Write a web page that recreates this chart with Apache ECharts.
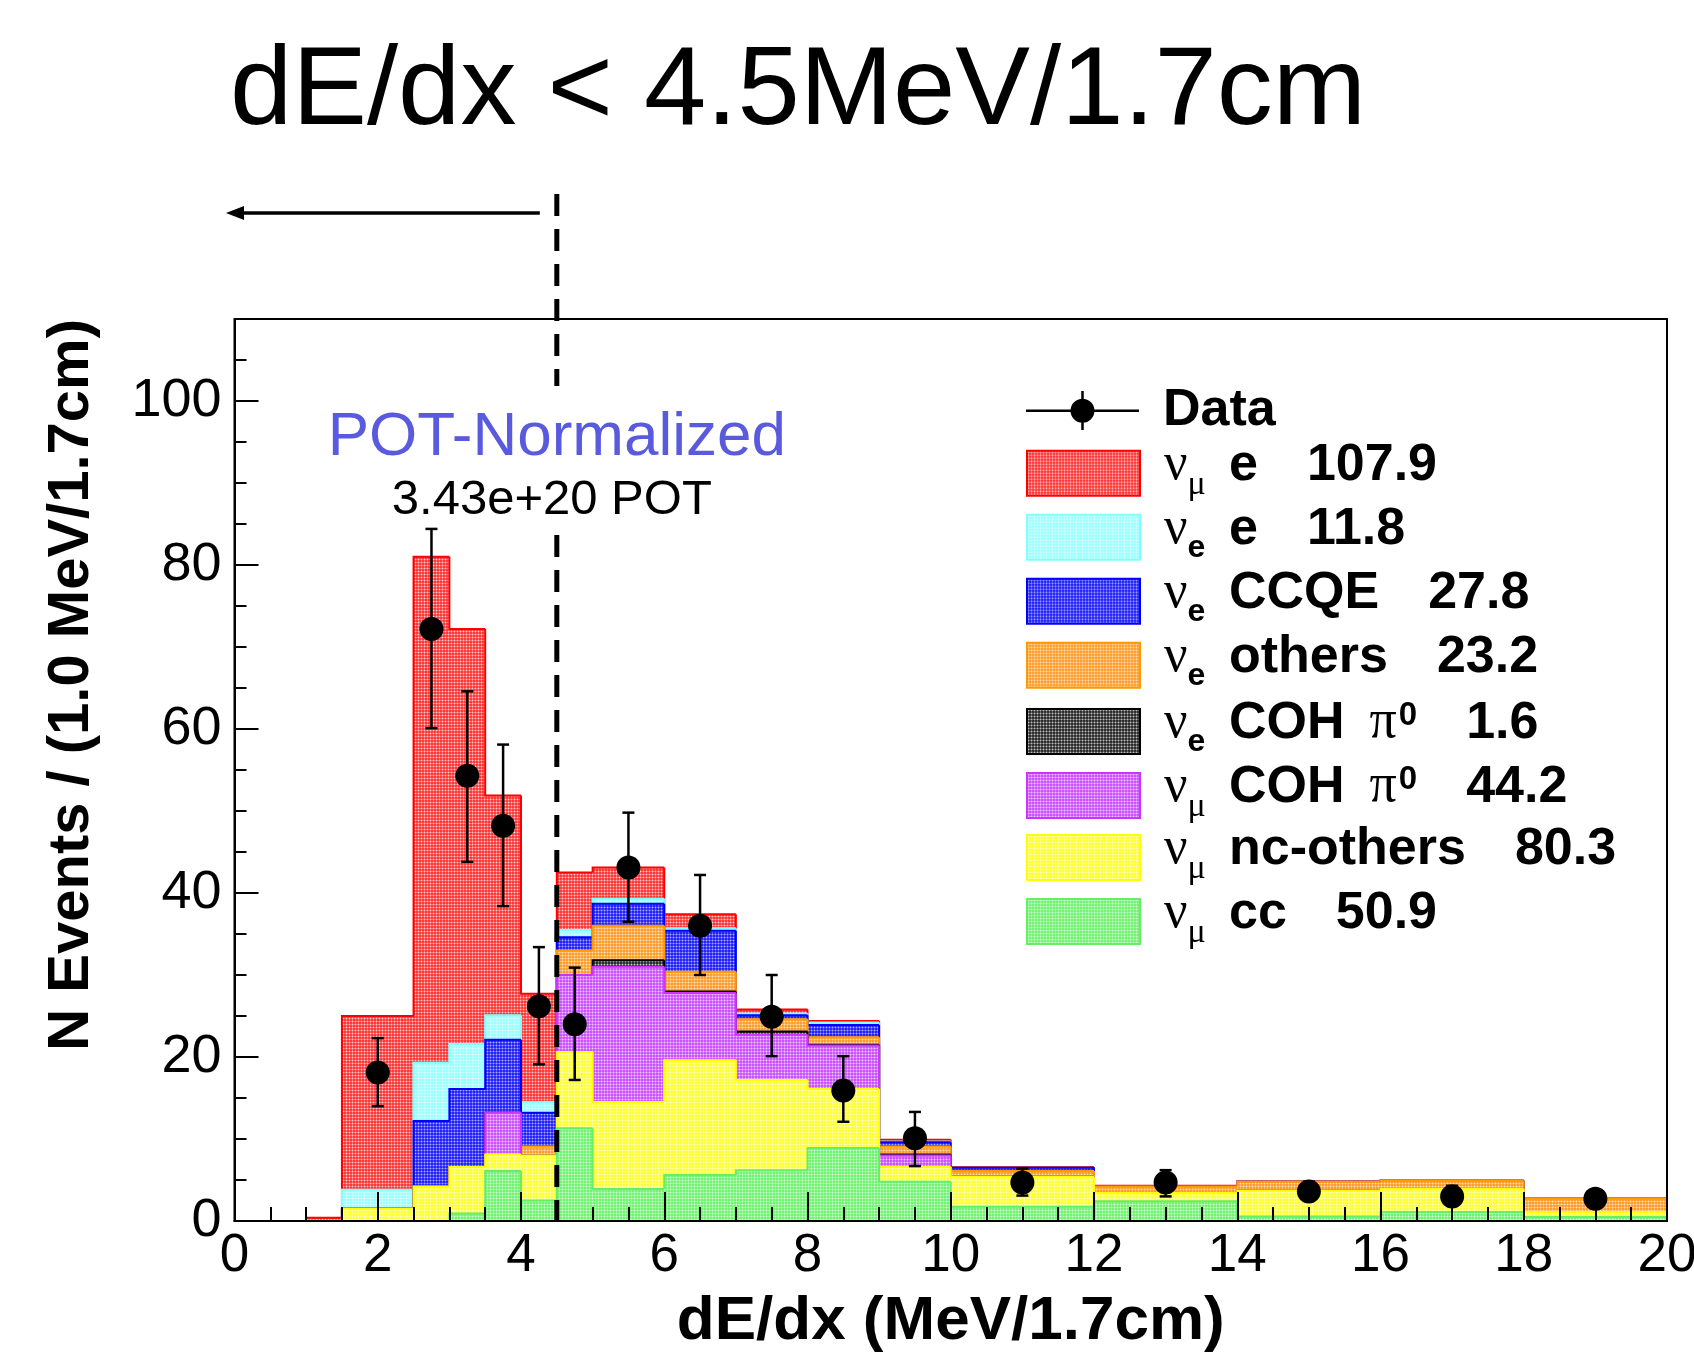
<!DOCTYPE html>
<html>
<head>
<meta charset="utf-8">
<script src="https://cdn.jsdelivr.net/npm/echarts@6/dist/echarts.min.js"></script>
<style>
html, body { margin: 0; padding: 0; background: #fff; }
#chart { width: 1694px; height: 1356px; }
</style>
</head>
<body>
<div id="chart"></div>
<script>
// histogram bin edges, dE/dx (MeV/1.7cm)
var binEdges = [1, 1.5, 2.5, 3, 3.5, 4, 4.5, 5, 6, 7, 8, 9, 10, 12, 14, 16, 18, 20];

// content of every stacked component per bin (N events / 1.0 MeV)
var numuE     = [0.4, 21.2, 61.7, 50.6, 26.8, 13.2, 7.0, 3.8, 1.7, 0.5, 0.2, 0.2, 0.1, 0.05, 0.05, 0.05, 0.05];
var nueE      = [0, 2.3, 7.1, 5.5, 3.0, 1.3, 0.9, 0.6, 0.3, 0.2, 0.3, 0.1, 0, 0, 0, 0, 0];
var nueCCQE   = [0, 0, 8.0, 9.5, 8.9, 4.1, 1.6, 2.7, 5.0, 0.5, 1.5, 0.5, 0.4, 0.05, 0, 0, 0];
var nueOthers = [0, 0, 0, 0, 0, 1.1, 3.0, 4.2, 2.4, 1.5, 0.9, 1.0, 0.7, 0.8, 1.1, 1.0, 1.6];
var nueCOH    = [0, 0, 0, 0, 0, 0, 0, 0.8, 0.2, 0.4, 0.1, 0.1, 0, 0, 0, 0, 0];
var numuCOH   = [0, 0, 0, 0, 5.1, 0, 9.4, 16.5, 8.2, 5.5, 5.3, 1.4, 0, 0, 0, 0, 0];
var numuNC    = [0, 1.5, 4.2, 5.7, 2.0, 5.5, 9.3, 10.6, 14.0, 11.0, 7.2, 1.8, 3.65, 1.0, 3.15, 2.8, 0.6];
var numuCC    = [0, 0, 0, 0.9, 6.1, 2.5, 11.3, 3.9, 5.6, 6.2, 8.9, 4.8, 1.75, 2.4, 0.55, 1.1, 0.5];

// data points with error bars
var dataX  = [2, 2.75, 3.25, 3.75, 4.25, 4.75, 5.5, 6.5, 7.5, 8.5, 9.5, 11, 13, 15, 17, 19];
var dataY  = [18.1, 72.2, 54.3, 48.2, 26.2, 24.0, 43.1, 36.0, 24.9, 15.9, 10.1, 4.7, 4.7, 3.6, 3.0, 2.7];
var dataLo = [14.0, 60.1, 43.8, 38.4, 19.1, 17.2, 36.5, 30.0, 20.1, 12.1, 6.7, 3.1, 3.0, 2.5, 1.9, 1.7];
var dataHi = [22.3, 84.4, 64.6, 58.1, 33.4, 30.9, 49.8, 42.2, 30.0, 20.1, 13.3, 6.4, 6.2, 4.8, 4.3, 3.7];

var yLabels = [0, 20, 40, 60, 80, 100];
var cutValue = 4.5;

// legend order = top of the stack first
var compNames  = ['numu_e', 'nue_e', 'nue_ccqe', 'nue_others', 'nue_coh', 'numu_coh', 'numu_nc', 'numu_cc'];
var compValues = [numuE, nueE, nueCCQE, nueOthers, nueCOH, numuCOH, numuNC, numuCC];
var compLabels = [
  '{nu|ν}{smu|μ}{t| e}{n|107.9}',
  '{nu|ν}{se|e}{t| e}{n|11.8}',
  '{nu|ν}{se|e}{t| CCQE}{n|27.8}',
  '{nu|ν}{se|e}{t| others}{n|23.2}',
  '{nu|ν}{se|e}{t| COH}{pi|π}{sup|0}{n|1.6}',
  '{nu|ν}{smu|μ}{t| COH}{pi|π}{sup|0}{n|44.2}',
  '{nu|ν}{smu|μ}{t| nc-others}{n|80.3}',
  '{nu|ν}{smu|μ}{t| cc}{n|50.9}'
];

// fill look (ROOT dotted fill): base colour, dot colour, outline
var compStyles = [
  { base: [255, 40, 40],  dot: [255, 205, 205], line: '#ff0000' },
  { base: [150, 255, 255], dot: [230, 255, 255], line: '#80ffff' },
  { base: [20, 20, 250],  dot: [175, 175, 255], line: '#0000ff' },
  { base: [255, 150, 30], dot: [255, 228, 190], line: '#ff9900' },
  { base: [25, 25, 25],   dot: [200, 200, 200], line: '#000000' },
  { base: [200, 70, 255], dot: [240, 205, 255], line: '#cc33ff' },
  { base: [255, 255, 40], dot: [255, 255, 205], line: '#ffff00' },
  { base: [105, 240, 105], dot: [215, 255, 215], line: '#66ee66' }
];

function makePattern(base, dot) {
  var c = document.createElement('canvas');
  c.width = 3; c.height = 3;
  var ctx = c.getContext('2d');
  var img = ctx.createImageData(3, 3);
  for (var y = 0; y < 3; y++) {
    for (var x = 0; x < 3; x++) {
      var w = (x === 1 && y === 1) ? 1 : ((x === 1 || y === 1) ? 0.45 : 0.1);
      var i = (y * 3 + x) * 4;
      for (var k = 0; k < 3; k++) img.data[i + k] = Math.round(base[k] + (dot[k] - base[k]) * w);
      img.data[i + 3] = 255;
    }
  }
  ctx.putImageData(img, 0, 0);
  return { image: c, repeat: 'repeat' };
}

var nBins = binEdges.length - 1;

// cumulative stack, bottom component (last in list) first
var cum = [];
var running = [];
for (var b = 0; b < nBins; b++) running.push(0);
for (var ci = compValues.length - 1; ci >= 0; ci--) {
  var lo = running.slice();
  var hi = running.map(function (v, j) { return v + compValues[ci][j]; });
  cum[ci] = { lo: lo, hi: hi };
  running = hi;
}

function stepRenderer(pattern, lineColor) {
  return function (params, api) {
    var x0 = api.value(0), x1 = api.value(1);
    var lo = api.value(2), hi = api.value(3), prev = api.value(4);
    var a = api.coord([x0, lo]), bpt = api.coord([x1, hi]);
    var children = [];
    if (hi > lo) {
      var rx = Math.round(a[0]), ry = Math.round(bpt[1]);
      children.push({
        type: 'rect',
        shape: { x: rx, y: ry, width: Math.round(bpt[0]) - rx, height: Math.round(a[1]) - ry },
        style: { fill: pattern }
      });
    }
    var pts = [api.coord([x0, prev]), api.coord([x0, hi]), api.coord([x1, hi])];
    if (params.dataIndex === nBins - 1) pts.push(api.coord([x1, 0]));
    children.push({ type: 'polyline', shape: { points: pts }, style: { stroke: lineColor, lineWidth: 2, fill: null } });
    return { type: 'group', children: children };
  };
}

var FONT = 'Liberation Sans, Arial, sans-serif';
var SERIF = 'Liberation Serif, Times New Roman, serif';

var legendRich = {
  d:   { fontSize: 52, fontWeight: 'bold', fontFamily: FONT, lineHeight: 45, verticalAlign: 'middle', padding: [0, 0, 0, 19] },
  nu:  { fontSize: 52, fontWeight: 'normal', fontFamily: SERIF, lineHeight: 45, verticalAlign: 'bottom', padding: [0, 0, 4.5, 19] },
  smu: { fontSize: 34, fontWeight: 'normal', fontFamily: SERIF, lineHeight: 45, verticalAlign: 'top', padding: [17, 0, 0, 0], width: 27 },
  se:  { fontSize: 32, fontWeight: 'bold', fontFamily: FONT, lineHeight: 45, verticalAlign: 'top', padding: [17, 0, 0, 0], width: 27 },
  t:   { fontSize: 52, fontWeight: 'bold', fontFamily: FONT, lineHeight: 45, verticalAlign: 'bottom', padding: [0, 0, 4.5, 0] },
  n:   { fontSize: 52, fontWeight: 'bold', fontFamily: FONT, lineHeight: 45, verticalAlign: 'bottom', padding: [0, 0, 4.5, 49] },
  pi:  { fontSize: 54, fontWeight: 'normal', fontFamily: SERIF, lineHeight: 45, verticalAlign: 'bottom', padding: [0, 0, 4.5, 25] },
  sup: { fontSize: 33, fontWeight: 'bold', fontFamily: FONT, lineHeight: 45, verticalAlign: 'bottom', padding: [0, 0, 21.5, 2] }
};

// one legend box per row so the rows sit at fixed heights
function legendRow(top, item, label) {
  return {
    orient: 'vertical', left: 1026, top: top, padding: 0,
    itemWidth: 113, itemHeight: 45, itemGap: 0,
    selectedMode: false,
    data: [item],
    formatter: function () { return label; },
    textStyle: { fontSize: 52, fontWeight: 'bold', color: '#000', fontFamily: FONT, lineHeight: 45, rich: legendRich }
  };
}

var series = [];
var legends = [legendRow(384.5, {
  name: 'Data',
  icon: 'path://M0,0h0.01v0.01h-0.01z M112.99,44.99h0.01v0.01h-0.01z M0,21.5h113v2.5h-113z M55.25,3h2.5v39h-2.5z M44.5,22.75a12,12 0 1,1 24,0a12,12 0 1,1 -24,0z',
  itemStyle: { color: '#000' }
}, '{d|Data}')];

compNames.forEach(function (name, ci) {
  var st = compStyles[ci];
  var pat = makePattern(st.base, st.dot);
  var rows = [];
  for (var j = 0; j < nBins; j++) {
    rows.push([binEdges[j], binEdges[j + 1], cum[ci].lo[j], cum[ci].hi[j], j > 0 ? cum[ci].hi[j - 1] : 0]);
  }
  series.push({
    name: name,
    type: 'custom',
    silent: true,
    itemStyle: { color: st.line },
    encode: { x: [0, 1], y: [2, 3, 4] },
    renderItem: stepRenderer(pat, st.line),
    data: rows
  });
  var rowCenter = 473.2 + 64.05 * ci;
  legends.push(legendRow(rowCenter - 34, {
    name: name, icon: 'rect',
    itemStyle: { color: pat, borderColor: st.line, borderWidth: 2 }
  }, compLabels[ci]));
});

var points = dataX.map(function (x, i) { return [x, dataY[i], dataLo[i], dataHi[i]]; });
series.push({
  name: 'Data',
  type: 'custom',
  silent: true,
  itemStyle: { color: '#000' },
  encode: { x: 0, y: [1, 2, 3] },
  renderItem: function (params, api) {
    var c = api.coord([api.value(0), api.value(1)]);
    var l = api.coord([api.value(0), api.value(2)]);
    var h = api.coord([api.value(0), api.value(3)]);
    var ls = { stroke: '#000', lineWidth: 2.5 };
    return { type: 'group', children: [
      { type: 'line', shape: { x1: c[0], y1: l[1], x2: c[0], y2: h[1] }, style: ls },
      { type: 'line', shape: { x1: c[0] - 6, y1: l[1], x2: c[0] + 6, y2: l[1] }, style: ls },
      { type: 'line', shape: { x1: c[0] - 6, y1: h[1], x2: c[0] + 6, y2: h[1] }, style: ls },
      { type: 'circle', shape: { cx: c[0], cy: c[1], r: 12 }, style: { fill: '#000' } }
    ] };
  },
  data: points
});

var chart = echarts.init(document.getElementById('chart'));
var option = {
  animation: false,
  backgroundColor: '#fff',
  textStyle: { fontFamily: FONT },
  grid: {
    left: 234.5, right: 27, top: 319, bottom: 135,
    show: true, borderColor: '#000', borderWidth: 2, backgroundColor: 'transparent',
    outerBoundsMode: 'none', z: 10
  },
  xAxis: {
    type: 'value', min: 0, max: 20, interval: 2, z: 10,
    name: 'dE/dx (MeV/1.7cm)', nameLocation: 'middle', nameGap: 70,
    nameTextStyle: { fontSize: 62, fontWeight: 'bold', color: '#000', fontFamily: FONT },
    axisLine: { show: true, lineStyle: { color: '#000', width: 2 } },
    axisTick: { show: true, inside: true, length: 29, lineStyle: { color: '#000', width: 2 } },
    minorTick: { show: true, splitNumber: 4, length: 14, lineStyle: { color: '#000', width: 2 } },
    axisLabel: { fontSize: 53, color: '#000', margin: 9, fontFamily: FONT },
    splitLine: { show: false }
  },
  yAxis: [{
    type: 'value', min: 0, max: 110, interval: 5, z: 10,
    axisLine: { show: true, lineStyle: { color: '#000', width: 2 } },
    axisTick: { show: true, inside: true, length: 12, lineStyle: { color: '#000', width: 2 } },
    axisLabel: {
      fontSize: 54, color: '#000', margin: 13, fontFamily: FONT,
      formatter: function (v) { return yLabels.indexOf(v) >= 0 ? String(v) : ''; }
    },
    splitLine: { show: false }
  }, {
    type: 'value', min: 0, max: 110, interval: 20, position: 'left', z: 10,
    axisLine: { show: false },
    axisTick: { show: true, inside: true, length: 24, lineStyle: { color: '#000', width: 2 } },
    axisLabel: { show: false },
    splitLine: { show: false }
  }],
  legend: legends,
  series: series
};
chart.setOption(option);

// annotations placed from the axis scale
var xCut = chart.convertToPixel({ xAxisIndex: 0 }, cutValue);
var yZero = chart.convertToPixel({ yAxisIndex: 0 }, 0);
var dash = { stroke: '#000', lineWidth: 5, lineDash: [22, 13] };
chart.setOption({
  graphic: [
    { type: 'text', x: 230, y: 93, z: 100,
      style: { text: 'dE/dx < 4.5MeV/1.7cm', fontSize: 112, fontFamily: FONT, fill: '#000', textAlign: 'left', align: 'left', textVerticalAlign: 'middle', verticalAlign: 'middle' } },
    { type: 'text', x: 72, y: 319, rotation: Math.PI / 2, z: 100,
      style: { text: 'N Events / (1.0 MeV/1.7cm)', fontSize: 58, fontWeight: 'bold', fontFamily: FONT, fill: '#000', textAlign: 'right', align: 'right', textVerticalAlign: 'middle', verticalAlign: 'middle' } },
    { type: 'text', x: xCut, y: 438, z: 100,
      style: { text: 'POT-Normalized', fontSize: 62, fontFamily: FONT, fill: '#5a5ade', textAlign: 'center', align: 'center', textVerticalAlign: 'middle', verticalAlign: 'middle' } },
    { type: 'text', x: xCut - 5, y: 500, z: 100,
      style: { text: '3.43e+20 POT', fontSize: 49, fontFamily: FONT, fill: '#000', textAlign: 'center', align: 'center', textVerticalAlign: 'middle', verticalAlign: 'middle' } },
    { type: 'line', z: 100, shape: { x1: xCut, y1: 194, x2: xCut, y2: 386 }, style: dash },
    { type: 'line', z: 100, shape: { x1: xCut, y1: 535, x2: xCut, y2: yZero }, style: dash },
    { type: 'line', z: 100, shape: { x1: xCut - 17, y1: 213, x2: 238, y2: 213 }, style: { stroke: '#000', lineWidth: 3.5 } },
    { type: 'polygon', z: 100, shape: { points: [[226, 213], [244, 206], [244, 220]] }, style: { fill: '#000' } }
  ]
});
</script>
</body>
</html>
